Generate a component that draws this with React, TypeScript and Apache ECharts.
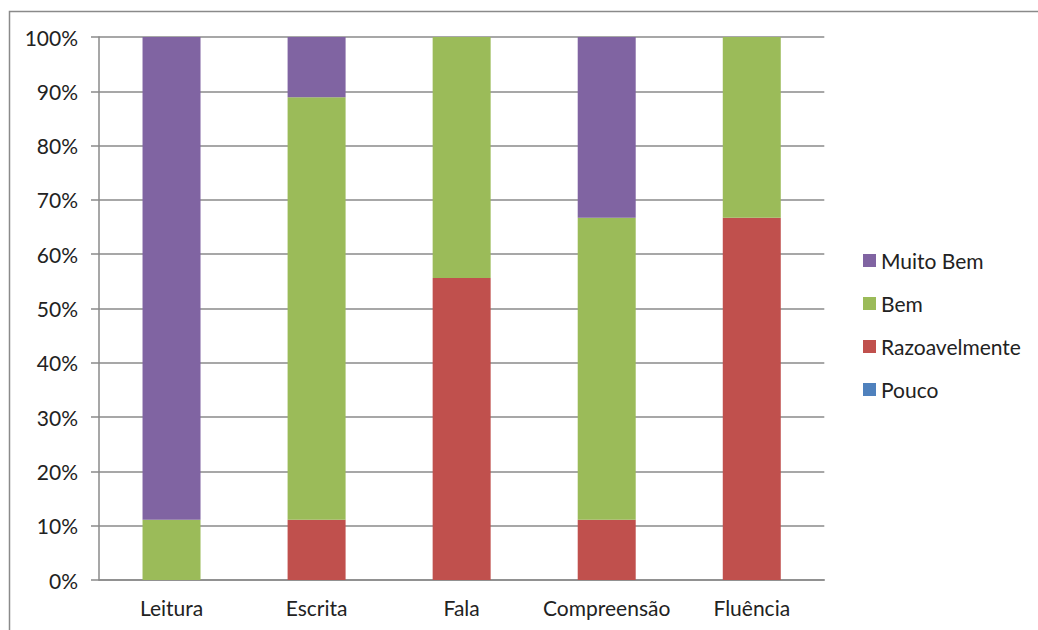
import React, { useEffect, useRef } from "react";
import * as echarts from "echarts";

// Proficiency ratings per skill, as shares of respondents (%)
const categories = ["Leitura", "Escrita", "Fala", "Compreensão", "Fluência"];
const pouco = [0, 0, 0, 0, 0];
const razoavelmente = [0, 11.1, 55.6, 11.1, 66.7];
const bem = [11.1, 77.8, 44.4, 55.6, 33.3];
const muitoBem = [88.9, 11.1, 0, 33.3, 0];
const legendOrder = ["Muito Bem", "Bem", "Razoavelmente", "Pouco"];

const FONT = "Lato, 'Open Sans', sans-serif";
const TEXT = "#222";
const GRID = "#8a8a8a";

export default function App() {
  const ref = useRef<HTMLDivElement>(null);

  useEffect(() => {
    if (!ref.current) return;
    const chart = echarts.init(ref.current, undefined, { renderer: "svg" });

    const mk = (name: string, data: number[], color: string) => ({
      name,
      type: "bar",
      stack: "total",
      data,
      barWidth: 58,
      itemStyle: { color },
      emphasis: { disabled: true },
    });

    chart.setOption({
      animation: false,
      backgroundColor: "#fff",
      textStyle: { fontFamily: FONT },
      graphic: [
        {
          type: "rect",
          shape: { x: 9.5, y: 11.5, width: 1100, height: 700 },
          style: { fill: "none", stroke: GRID, lineWidth: 1.5 },
          silent: true,
        },
      ],
      grid: { left: 99, right: 213.7, top: 37, bottom: 50, containLabel: false },
      legend: {
        orient: "vertical",
        left: 863,
        top: 250,
        padding: 0,
        itemWidth: 13,
        itemHeight: 13,
        itemGap: 22,
        icon: "rect",
        data: legendOrder,
        selectedMode: false,
        textStyle: { fontFamily: FONT, fontSize: 21, color: TEXT, lineHeight: 21, letterSpacing: 0.5 },
      },
      xAxis: {
        type: "category",
        data: categories,
        axisLine: { lineStyle: { color: GRID, width: 1.5 } },
        axisTick: { length: 7, lineStyle: { color: GRID, width: 1.5 } },
        axisLabel: { interval: 0, fontFamily: FONT, fontSize: 21, color: TEXT, margin: 17 },
      },
      yAxis: {
        type: "value",
        min: 0,
        max: 100,
        interval: 10,
        axisLine: { show: true, lineStyle: { color: GRID, width: 1.5 } },
        axisTick: { show: true, length: 8, lineStyle: { color: GRID, width: 1.5 } },
        splitLine: { lineStyle: { color: GRID, width: 1.5 } },
        axisLabel: {
          formatter: "{value}%",
          fontFamily: FONT,
          fontSize: 21,
          color: TEXT,
          margin: 21,
        },
      },
      series: [
        mk("Pouco", pouco, "#4F81BD"),
        mk("Razoavelmente", razoavelmente, "#C0504D"),
        mk("Bem", bem, "#9BBB59"),
        mk("Muito Bem", muitoBem, "#8064A2"),
      ],
    });

    return () => chart.dispose();
  }, []);

  return (
    <div
      ref={ref}
      style={{ position: "absolute", left: 0, top: 0, width: 1038, height: 630 }}
    />
  );
}
